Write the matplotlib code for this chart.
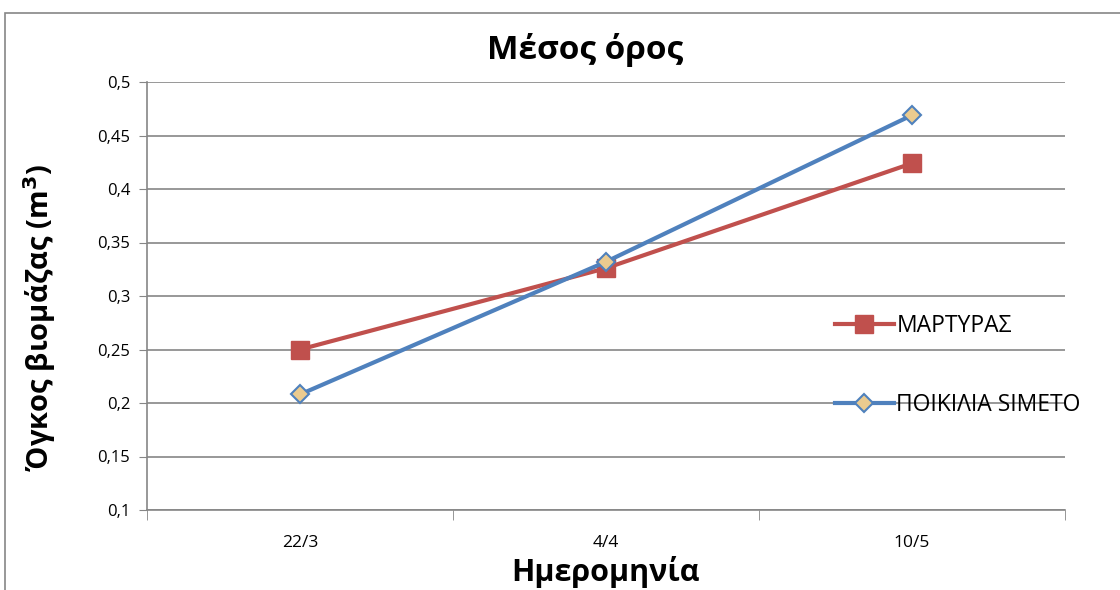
import matplotlib
matplotlib.use("Agg")
import matplotlib.pyplot as plt
from matplotlib.ticker import FixedLocator, FuncFormatter

plt.rcParams['font.family'] = ['Open Sans', 'DejaVu Sans']

# data
dates = ['22/3', '4/4', '10/5']
martyras = [0.250, 0.326, 0.424]
simeto = [0.208, 0.332, 0.469]
y_ticks = [0.1, 0.15, 0.2, 0.25, 0.3, 0.35, 0.4, 0.45, 0.5]

red = '#C0504D'
blue = '#4F81BD'
grid_col = '#868686'

fig = plt.figure(figsize=(11.2, 5.9), dpi=100)
# outer chart frame
fig.patches.append(plt.Rectangle((5 / 1120, -0.05), 1.1, 1 - 13 / 590 + 0.05,
                                 transform=fig.transFigure, fill=False,
                                 edgecolor=grid_col, linewidth=1.2))
ax = fig.add_axes([147 / 1120, 1 - 510 / 590, (1065 - 147) / 1120, (510 - 82) / 590])

x = list(range(len(dates)))
ax.plot(x, martyras, color=red, linewidth=3, marker='s', markersize=13,
        markerfacecolor=red, markeredgecolor=red, label='ΜΑΡΤΥΡΑΣ', zorder=3)
ax.plot(x, simeto, color=blue, linewidth=3, marker='D', markersize=9,
        markerfacecolor='#EBCB8F', markeredgecolor=blue, markeredgewidth=1.5,
        label='ΠΟΙΚΙΛΙΑ SIMETO', zorder=4)

ax.set_xlim(-0.5, len(dates) - 0.5)
ax.set_ylim(0.1, 0.5)
ax.set_yticks(y_ticks)
ax.yaxis.set_major_formatter(FuncFormatter(lambda v, p: ('%g' % round(v, 2)).replace('.', ',')))
ax.set_xticks(x)
ax.set_xticklabels(dates)
ax.xaxis.set_minor_locator(FixedLocator([i - 0.5 for i in range(len(dates) + 1)]))
ax.tick_params(axis='x', which='major', length=0, pad=18, labelsize=12.5)
ax.tick_params(axis='x', which='minor', length=7, color=grid_col, direction='out')
ax.tick_params(axis='y', length=6, color=grid_col, labelsize=12, pad=6)

ax.grid(axis='y', color=grid_col, linewidth=1.2)
ax.set_axisbelow(True)
for s in ['top', 'right']:
    ax.spines[s].set_visible(False)
for s in ['left', 'bottom']:
    ax.spines[s].set_color(grid_col)
    ax.spines[s].set_linewidth(1.2)

fig.text(585 / 1120, 1 - 50 / 590, 'Μέσος όρος', fontsize=24, fontweight='bold',
         ha='center', va='center')
fig.text(606 / 1120, 1 - 572 / 590, 'Ημερομηνία', fontsize=22, fontweight='bold',
         ha='center', va='center')
fig.text(40 / 1120, 1 - 318 / 590, 'Όγκος βιομάζας (m$^\\mathbf{3}$)', fontsize=21,
         fontweight='bold', ha='center', va='center', rotation=90)

ax.legend(loc='upper left', bbox_to_anchor=(0.739, 0.479), frameon=False,
          fontsize=16.5, labelspacing=2.4, handlelength=2.6, handletextpad=0.1,
          borderaxespad=0)

fig.savefig('out.png', dpi=100)
